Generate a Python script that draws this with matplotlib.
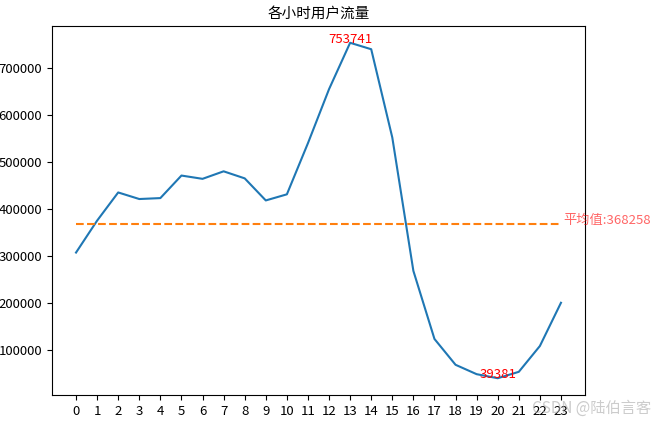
import matplotlib
matplotlib.use("Agg")
import matplotlib.pyplot as plt

plt.rcParams['font.family'] = ['Noto Sans CJK SC', 'DejaVu Sans']
plt.rcParams['axes.unicode_minus'] = False

# hourly user traffic
hours = list(range(24))
traffic = [307000, 375000, 435000, 421000, 423000, 471000, 464000, 480000,
           465000, 418000, 431000, 540000, 655000, 753741, 740000, 552000,
           268000, 123000, 68000, 48000, 39381, 53000, 108000, 200070]

title = "各小时用户流量"
mean_label = "平均值:"
watermark = "CSDN @陆伯言客"

mean_val = sum(traffic) / len(traffic)
imax = traffic.index(max(traffic))
imin = traffic.index(min(traffic))

fig = plt.figure(figsize=(6.54, 4.25), dpi=100)
ax = fig.add_axes([0.0795, 0.0706, 0.815, 0.8682])

ax.plot(hours, traffic, color='#1f77b4', linewidth=1.5)
ax.hlines(mean_val, hours[0], hours[-1], colors='#ff7f0e', linestyles='dashed', linewidth=1.5)

# max / min labels
ax.text(hours[imax], traffic[imax], str(traffic[imax]), color='red',
        ha='center', va='baseline', fontsize=9.5)
ax.text(hours[imin], traffic[imin], str(traffic[imin]), color='red',
        ha='center', va='baseline', fontsize=9.5)
ax.text(hours[-1] + 0.1, mean_val, mean_label + str(int(mean_val)), color='red',
        alpha=0.6, ha='left', va='baseline', fontsize=9.5, clip_on=False)

ax.set_xticks(hours)
ax.set_xlim(-1.14, 24.14)
ax.tick_params(labelsize=9.5)
ax.set_title(title, fontsize=10.5, pad=6)

fig.text(0.813, 0.04, watermark, color='#aaaaaa', alpha=0.6, fontsize=11,
         ha='left', va='center')

fig.savefig("out.png", dpi=100)
